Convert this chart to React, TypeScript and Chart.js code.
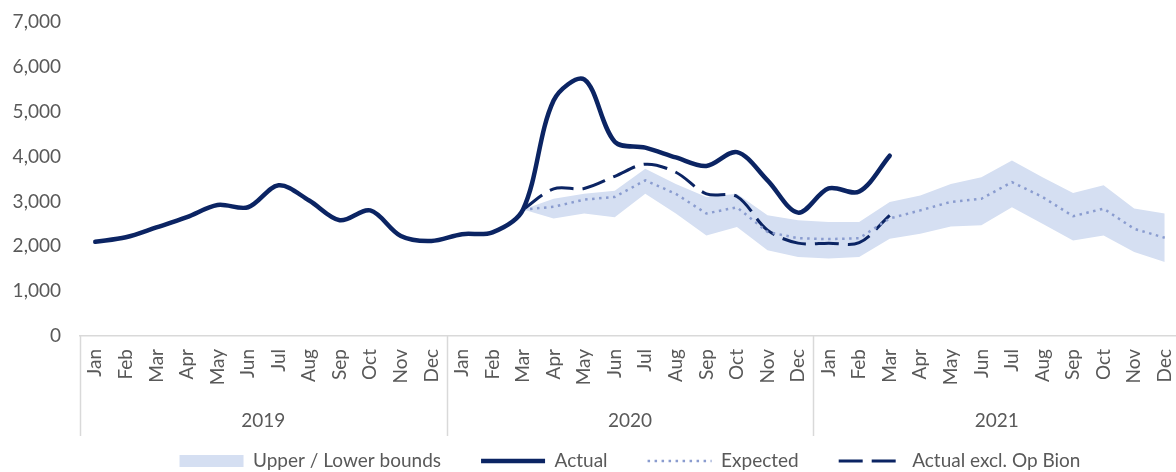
import React, { useEffect, useRef } from "react";
import { Chart, registerables } from "chart.js";

Chart.register(...registerables);

const months = ["Jan", "Feb", "Mar", "Apr", "May", "Jun", "Jul", "Aug", "Sep", "Oct", "Nov", "Dec"];
const years = ["2019", "2020", "2021"];
const categories = years.flatMap(() => months);

const yTicks = [0, 1000, 2000, 3000, 4000, 5000, 6000, 7000];

const actual = [
  2100, 2200, 2420, 2650, 2920, 2870, 3360, 3020, 2580, 2800, 2230, 2120,
  2270, 2310, 2820, 5250, 5720, 4330, 4200, 3980, 3790, 4100, 3470, 2750,
  3290, 3220, 4020, null, null, null, null, null, null, null, null, null,
];

const actualExclOpBion = [
  null, null, null, null, null, null, null, null, null, null, null, null,
  null, null, 2820, 3280, 3290, 3560, 3830, 3650, 3170, 3110, 2360, 2070,
  2070, 2080, 2690, null, null, null, null, null, null, null, null, null,
];

const expected = [
  null, null, null, null, null, null, null, null, null, null, null, null,
  null, null, 2820, 2880, 3040, 3100, 3470, 3170, 2730, 2870, 2320, 2180,
  2160, 2180, 2620, 2800, 2990, 3060, 3430, 3100, 2670, 2840, 2390, 2190,
];

const upperBound = [
  null, null, null, null, null, null, null, null, null, null, null, null,
  null, null, 2820, 3060, 3170, 3240, 3730, 3390, 3100, 3170, 2690, 2580,
  2540, 2540, 2990, 3130, 3390, 3540, 3910, 3540, 3190, 3360, 2840, 2730,
];

const lowerBound = [
  null, null, null, null, null, null, null, null, null, null, null, null,
  null, null, 2820, 2620, 2730, 2650, 3170, 2730, 2240, 2430, 1910, 1760,
  1730, 1760, 2170, 2280, 2440, 2470, 2870, 2500, 2130, 2240, 1870, 1650,
];

const NAVY = "#0b2463";
const BAND = "#d5dff2";
const DOTS = "#8a9ccf";
const TEXT = "#595959";
const AXIS = "#d9d9d9";
const FONT = "Lato";

const yearGroupsPlugin = {
  id: "yearGroups",
  afterDraw(chart: any) {
    const x = chart.scales.x;
    const ctx = chart.ctx;
    const top = x.top;
    ctx.save();
    ctx.strokeStyle = AXIS;
    ctx.lineWidth = 1.5;
    for (let g = 0; g <= years.length; g++) {
      const px = Math.round(x.getPixelForValue(g * months.length - 0.5)) + 0.5;
      ctx.beginPath();
      ctx.moveTo(px, top);
      ctx.lineTo(px, top + 100);
      ctx.stroke();
    }
    ctx.fillStyle = TEXT;
    ctx.font = `19px ${FONT}`;
    ctx.textAlign = "center";
    ctx.textBaseline = "middle";
    years.forEach((yr, g) => {
      ctx.fillText(yr, x.getPixelForValue(g * months.length + 5.5), top + 85);
    });
    ctx.restore();
  },
};

export default function App() {
  const canvasRef = useRef<HTMLCanvasElement | null>(null);

  useEffect(() => {
    let chart: Chart | null = null;
    let cancelled = false;
    const make = () => {
      if (cancelled || !canvasRef.current) return;
      chart = new Chart(canvasRef.current, {
        type: "line",
        data: {
          labels: categories,
          datasets: [
            {
              label: "Upper / Lower bounds",
              data: upperBound,
              borderWidth: 0,
              pointRadius: 0,
              backgroundColor: BAND,
              borderColor: BAND,
              fill: "+1",
              tension: 0,
            },
            {
              label: "Lower",
              data: lowerBound,
              borderWidth: 0,
              pointRadius: 0,
              backgroundColor: BAND,
              borderColor: BAND,
              fill: false,
              tension: 0,
            },
            {
              label: "Actual",
              data: actual,
              borderColor: NAVY,
              borderWidth: 4.5,
              pointRadius: 0,
              fill: false,
              tension: 0.33,
              borderCapStyle: "round",
              borderJoinStyle: "round",
            },
            {
              label: "Expected",
              data: expected,
              borderColor: DOTS,
              borderWidth: 2.5,
              borderDash: [2.5, 4.5],
              pointRadius: 0,
              fill: false,
              tension: 0,
            },
            {
              label: "Actual excl. Op Bion",
              data: actualExclOpBion,
              borderColor: NAVY,
              borderWidth: 3,
              borderDash: [24, 9],
              pointRadius: 0,
              fill: false,
              tension: 0.33,
            },
          ] as any,
        },
        options: {
          responsive: false,
          animation: false,
          events: [],
          layout: { autoPadding: false, padding: { top: 22, left: 0, right: 0, bottom: 0 } },
          scales: {
            x: {
              type: "category",
              offset: true,
              grid: { display: false, drawTicks: false },
              border: { display: true, color: AXIS, width: 1.5 },
              ticks: {
                autoSkip: false,
                maxRotation: 90,
                minRotation: 90,
                padding: 13,
                color: TEXT,
                font: { family: FONT, size: 19 },
              },
              afterFit: (s: any) => {
                s.height = 75.5;
                s.paddingLeft = 0;
                s.paddingRight = 0;
              },
            },
            y: {
              min: 0,
              max: 7000,
              afterBuildTicks: (s: any) => {
                s.ticks = yTicks.map((v) => ({ value: v }));
              },
              ticks: {
                padding: 19,
                color: TEXT,
                font: { family: FONT, size: 19 },
                callback: (v: any) => Number(v).toLocaleString("en-US"),
              },
              grid: { display: false, drawTicks: false },
              border: { display: false },
              afterFit: (s: any) => {
                s.width = 80;
                s.paddingTop = 0;
                s.paddingBottom = 0;
              },
            },
          },
          plugins: {
            filler: { drawTime: "beforeDatasetsDraw" },
            tooltip: { enabled: false },
            legend: {
              position: "bottom",
              fullSize: false,
              maxHeight: 60.5,
              labels: {
                usePointStyle: true,
                pointStyleWidth: 64,
                boxHeight: 12,
                padding: 40,
                color: TEXT,
                font: { family: FONT, size: 19 },
                generateLabels: () => [
                  { text: "Upper / Lower bounds", fillStyle: BAND, strokeStyle: BAND, lineWidth: 0, pointStyle: "rect", datasetIndex: 0, fontColor: TEXT },
                  { text: "Actual", fillStyle: "rgba(0,0,0,0)", strokeStyle: NAVY, lineWidth: 4.5, pointStyle: "line", lineDash: [], datasetIndex: 2, fontColor: TEXT },
                  { text: "Expected", fillStyle: "rgba(0,0,0,0)", strokeStyle: DOTS, lineWidth: 2.5, pointStyle: "line", lineDash: [2.5, 4.5], datasetIndex: 3, fontColor: TEXT },
                  { text: "Actual excl. Op Bion", fillStyle: "rgba(0,0,0,0)", strokeStyle: NAVY, lineWidth: 3, pointStyle: "line", lineDash: [24, 9], datasetIndex: 4, fontColor: TEXT },
                ] as any,
              },
            },
          },
        } as any,
        plugins: [yearGroupsPlugin],
      });
    };
    const fontsReady = (document as any).fonts?.load
      ? Promise.all([
          (document as any).fonts.load(`19px ${FONT}`),
        ]).catch(() => null)
      : Promise.resolve(null);
    fontsReady.then(make);
    return () => {
      cancelled = true;
      if (chart) chart.destroy();
    };
  }, []);

  return (
    <div
      style={{
        position: "fixed",
        left: 0,
        top: 0,
        width: 1176,
        height: 472,
        overflow: "hidden",
        background: "#ffffff",
      }}
    >
      <canvas ref={canvasRef} width={1180} height={472} style={{ display: "block", width: 1180, height: 472 }} />
    </div>
  );
}
